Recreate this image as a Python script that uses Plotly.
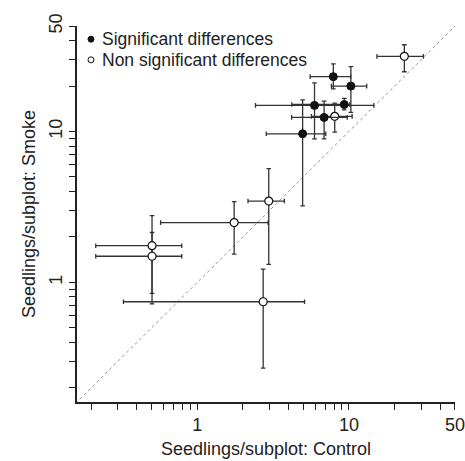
import numpy as np
import plotly.graph_objects as go

# Significant differences (filled markers)
sig_control = [7.89, 10.3, 5.93, 9.31, 6.86, 4.95]
sig_smoke = [23.1, 20.0, 14.9, 15.1, 12.4, 9.66]
sig_control_lo = [5.55, 7.66, 2.42, 4.20, 4.19, 2.85]
sig_control_hi = [10.26, 13.1, 14.6, 10.1, 9.75, 7.04]
sig_smoke_lo = [19.2, 13.4, 8.95, 13.9, 8.95, 3.21]
sig_smoke_hi = [28.1, 26.9, 21.0, 16.6, 15.9, 16.2]

# Non significant differences (open markers)
ns_control = [23.2, 8.06, 2.96, 1.75, 0.503, 0.503, 2.72]
ns_smoke = [31.5, 12.6, 3.46, 2.49, 1.75, 1.49, 0.744]
ns_control_lo = [15.3, 5.66, 2.16, 0.573, 0.214, 0.214, 0.326]
ns_control_hi = [31.0, 10.5, 3.75, 2.93, 0.79, 0.79, 5.1]
ns_smoke_lo = [24.9, 9.9, 1.315, 1.54, 0.846, 0.719, 0.27]
ns_smoke_hi = [37.6, 15.4, 5.67, 3.43, 2.77, 2.14, 1.224]

legend_labels = ["Significant differences", "Non significant differences"]

axis_min, axis_max = 0.161, 50
major_ticks = [1, 10, 50]
minor_ticks = [0.2, 0.3, 0.4, 0.5, 0.6, 0.7, 0.8, 0.9, 2, 3, 4, 5, 6, 7, 8, 9, 20, 30, 40]

FONT = "Liberation Sans, Arial, sans-serif"
TXT = "#222222"
ERR_COL = "#333333"


def err(center, lo, hi, cap):
    c, l, h = np.array(center), np.array(lo), np.array(hi)
    return dict(type="data", symmetric=False, array=h - c, arrayminus=c - l,
                color=ERR_COL, thickness=1.3, width=cap)


fig = go.Figure()

# 1:1 line
fig.add_trace(go.Scatter(x=[0.1, 100], y=[0.1, 100], mode="lines",
                         line=dict(color="#777777", width=0.8, dash="dot"),
                         showlegend=False, hoverinfo="skip"))

fig.add_trace(go.Scatter(
    x=ns_control, y=ns_smoke, mode="markers", showlegend=False,
    error_x=err(ns_control, ns_control_lo, ns_control_hi, 2.3),
    error_y=err(ns_smoke, ns_smoke_lo, ns_smoke_hi, 2.3),
    marker=dict(size=8, color="white", line=dict(color="#111111", width=1.2))))

fig.add_trace(go.Scatter(
    x=sig_control, y=sig_smoke, mode="markers", showlegend=False,
    error_x=err(sig_control, sig_control_lo, sig_control_hi, 2.3),
    error_y=err(sig_smoke, sig_smoke_lo, sig_smoke_hi, 2.3),
    marker=dict(size=8, color="#111111", line=dict(color="#111111", width=1))))

tickvals = major_ticks + minor_ticks
ticktext = [str(v) for v in major_ticks] + [""] * len(minor_ticks)

axis_common = dict(
    type="log", range=[np.log10(axis_min), np.log10(axis_max) + 0.0005],
    showgrid=False, zeroline=False, showline=True, linecolor="#222222", linewidth=1.5,
    ticks="outside", ticklen=6, tickwidth=1, tickcolor="#222222",
    tickvals=tickvals, ticktext=ticktext, automargin=False,
    tickfont=dict(family=FONT, size=18, color=TXT),
    title_font=dict(family=FONT, size=18, color=TXT),
)

fig.update_xaxes(**axis_common, title_text="Seedlings/subplot: Control", title_standoff=8)
fig.update_yaxes(**axis_common, title_text="Seedlings/subplot: Smoke", tickangle=-90,
                 title_standoff=6)

# legend (symbols + labels placed inside the plot, top-left)
legend_y = [0.965, 0.910]
fills = ["#111111", "white"]
for lab, ly, fc in zip(legend_labels, legend_y, fills):
    fig.add_shape(type="circle", xref="paper", yref="paper",
                  xsizemode="pixel", ysizemode="pixel",
                  xanchor=0.037, yanchor=ly, x0=-3, x1=3, y0=-3, y1=3,
                  fillcolor=fc, line=dict(color="#111111", width=1))
    fig.add_annotation(x=0.062, y=ly, xref="paper", yref="paper", text=lab,
                       showarrow=False, xanchor="left", yanchor="middle",
                       font=dict(family=FONT, size=17.5, color=TXT))

fig.update_layout(
    width=465, height=461,
    margin=dict(l=77, r=10, t=26, b=59),
    paper_bgcolor="white", plot_bgcolor="white",
    font=dict(family=FONT, color=TXT),
    showlegend=False,
)

fig.write_html("out.html", config={"displayModeBar": False},
               post_script="document.body.style.margin='0';document.body.style.overflow='hidden';")
